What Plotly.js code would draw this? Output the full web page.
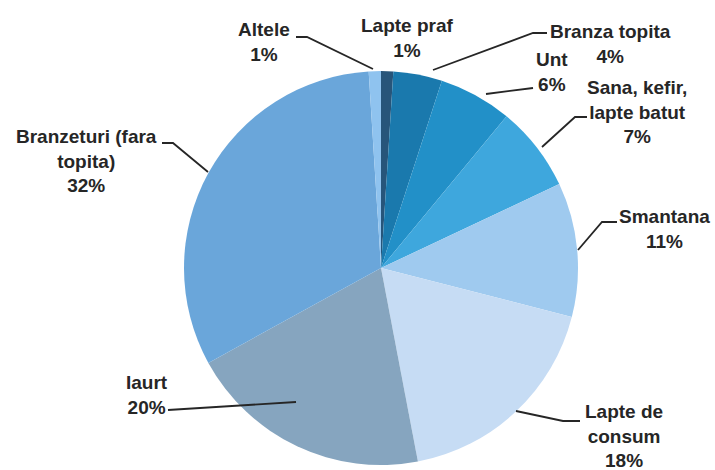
<!DOCTYPE html>
<html>
<head>
<meta charset="utf-8">
<script src="https://cdn.plot.ly/plotly-3.0.1.min.js"></script>
<style>html,body{margin:0;padding:0;background:#fff;}#chart{width:715px;height:470px;}</style>
</head>
<body>
<div id="chart"></div>
<script>
// ---- data ----
var categories = ["Lapte praf", "Branza topita", "Unt", "Sana, kefir, lapte batut", "Smantana", "Lapte de consum", "Iaurt", "Branzeturi (fara topita)", "Altele"];
var labelLines = ["Lapte praf", "Branza topita", "Unt", "Sana, kefir,<br>lapte batut", "Smantana", "Lapte de<br>consum", "Iaurt", "Branzeturi (fara<br>topita)", "Altele"];
var shares = [1, 4, 6, 7, 11, 18, 20, 32, 1];
var sliceColors = ["#27557a", "#1a79ad", "#2290c8", "#3ea7dd", "#9fcaef", "#c6dcf4", "#86a5bf", "#6aa6da", "#8fc3ef"];

// ---- layout helpers (pixel positions in the 715x470 frame) ----
var W = 715, H = 470;
var cx = 381, cy = 268, r = 197;
var labelPos = [[407, 38], [610, 44], [552, 72], [637, 112], [664, 229], [624, 436], [147, 395], [86, 161], [264, 42]];
var leaders = [
  null,
  [[433, 70], [533, 33], [547, 33]],
  [[486, 94], [533, 88]],
  [[542, 147], [575, 117], [587, 117]],
  [[578, 250], [602, 222], [617, 222]],
  [[516, 411], [563, 421], [580, 421]],
  [[296, 402], [168, 410]],
  [[208, 172], [173, 143], [162, 143]],
  [[373, 69], [307, 37], [296, 37]]
];
function px(x) { return x / W; }
function py(y) { return 1 - y / H; }

var trace = {
  type: "pie",
  labels: categories,
  values: shares,
  sort: false,
  direction: "clockwise",
  rotation: 0,
  textinfo: "none",
  hoverinfo: "label+percent",
  marker: { colors: sliceColors, line: { width: 0 } },
  domain: { x: [px(cx - r), px(cx + r)], y: [py(cy + r), py(cy - r)] },
  showlegend: false
};

var annotations = categories.map(function (c, i) {
  return {
    xref: "paper", yref: "paper",
    x: px(labelPos[i][0]), y: py(labelPos[i][1]),
    xanchor: "center", yanchor: "middle",
    text: labelLines[i] + "<br>" + shares[i] + "%",
    showarrow: false,
    align: "center",
    font: { family: "Liberation Sans, Arial, sans-serif", size: 19, color: "#262626", weight: "bold" }
  };
});

var shapes = leaders.filter(function (p) { return p; }).map(function (pts) {
  return {
    type: "path", xref: "paper", yref: "paper",
    path: pts.map(function (p, k) { return (k ? "L" : "M") + px(p[0]) + "," + py(p[1]); }).join(" "),
    line: { color: "#262626", width: 1.8 }
  };
});

var layout = {
  width: W, height: H,
  margin: { l: 0, r: 0, t: 0, b: 0 },
  paper_bgcolor: "#ffffff",
  annotations: annotations,
  shapes: shapes
};

Plotly.newPlot("chart", [trace], layout, { displayModeBar: false, staticPlot: true });
</script>
</body>
</html>
